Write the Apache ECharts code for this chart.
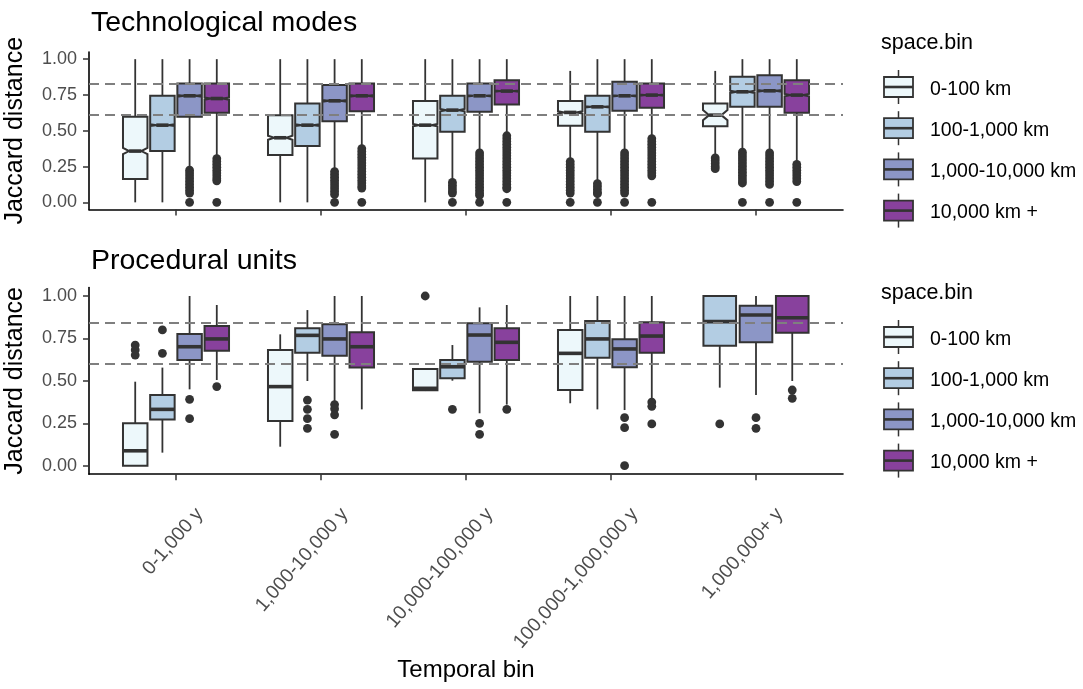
<!DOCTYPE html>
<html>
<head>
<meta charset="utf-8">
<script src="https://cdn.jsdelivr.net/npm/echarts@6/dist/echarts.min.js"></script>
<style>
  html, body { margin: 0; padding: 0; background: #ffffff; }
  #chart { width: 1083px; height: 689px; }
</style>
</head>
<body>
<div id="chart"></div>
<script>
// ---- data -------------------------------------------------------------
const temporalBins = ['0-1,000 y', '1,000-10,000 y', '10,000-100,000 y', '100,000-1,000,000 y', '1,000,000+ y'];
const spaceBins = ['0-100 km', '100-1,000 km', '1,000-10,000 km', '10,000 km +'];
const panelTitles = ['Technological modes', 'Procedural units'];
const legendTitle = 'space.bin';
const yTicks = [0, 0.25, 0.5, 0.75, 1];
const techRefLines = [0.609, 0.831];
const procRefLines = [0.598, 0.841];

// box rows: [temporal bin, lower whisker, Q1, median, Q3, upper whisker, notch half-height]
const techBox0to100 = [
  [0, 0.00, 0.163, 0.358, 0.597, 1.00, 0.022],
  [1, 0.00, 0.330, 0.451, 0.609, 1.00, 0.014],
  [2, 0.00, 0.307, 0.539, 0.707, 1.00, 0.008],
  [3, 0.30, 0.535, 0.628, 0.707, 0.918, 0.008],
  [4, 0.33, 0.532, 0.609, 0.691, 0.918, 0.035]
];
const techBox100to1000 = [
  [0, 0.00, 0.358, 0.539, 0.744, 1.00, 0.006],
  [1, 0.00, 0.393, 0.539, 0.691, 1.00, 0.006],
  [2, 0.15, 0.493, 0.644, 0.744, 1.00, 0.008],
  [3, 0.14, 0.493, 0.667, 0.744, 1.00, 0.005],
  [4, 0.37, 0.667, 0.772, 0.877, 1.00, 0.008]
];
const techBox1000to10000 = [
  [0, 0.24, 0.597, 0.744, 0.830, 1.00, 0.006],
  [1, 0.23, 0.567, 0.709, 0.819, 1.00, 0.006],
  [2, 0.36, 0.632, 0.744, 0.830, 1.00, 0.004],
  [3, 0.36, 0.640, 0.744, 0.842, 1.00, 0.004],
  [4, 0.36, 0.667, 0.779, 0.888, 1.00, 0.006]
];
const techBox10000plus = [
  [0, 0.32, 0.626, 0.725, 0.830, 1.00, 0.008],
  [1, 0.39, 0.637, 0.744, 0.830, 1.00, 0.006],
  [2, 0.48, 0.684, 0.777, 0.853, 1.00, 0.005],
  [3, 0.46, 0.660, 0.749, 0.830, 1.00, 0.005],
  [4, 0.28, 0.626, 0.749, 0.853, 1.00, 0.008]
];

// outlying distances, one list per temporal bin
const techOut0to100 = [
  [], [], [],
  [0.285, 0.265, 0.245, 0.225, 0.205, 0.185, 0.165, 0.145, 0.125, 0.105, 0.085, 0.065, 0],
  [0.31, 0.29, 0.27, 0.25, 0.235]
];
const techOut100to1000 = [
  [], [],
  [0.14, 0.12, 0.10, 0.08, 0.065, 0],
  [0.13, 0.11, 0.09, 0.07, 0.06, 0],
  [0.35, 0.33, 0.31, 0.29, 0.27, 0.25, 0.23, 0.21, 0.19, 0.17, 0.15, 0.135, 0]
];
const techOut1000to10000 = [
  [0.225, 0.205, 0.185, 0.165, 0.145, 0.125, 0.105, 0.085, 0.065, 0],
  [0.215, 0.195, 0.175, 0.155, 0.135, 0.115, 0.095, 0.075, 0.055, 0],
  [0.345, 0.325, 0.305, 0.285, 0.265, 0.245, 0.225, 0.205, 0.185, 0.165, 0.145, 0.125, 0.105, 0.085, 0.065, 0.05, 0],
  [0.345, 0.325, 0.305, 0.285, 0.265, 0.245, 0.225, 0.205, 0.185, 0.165, 0.145, 0.125, 0.105, 0.085, 0.065, 0],
  [0.345, 0.325, 0.305, 0.285, 0.265, 0.245, 0.225, 0.205, 0.185, 0.165, 0.145, 0.125, 0]
];
const techOut10000plus = [
  [0.305, 0.285, 0.265, 0.245, 0.225, 0.205, 0.185, 0.165, 0.15, 0],
  [0.375, 0.355, 0.335, 0.315, 0.295, 0.275, 0.255, 0.235, 0.215, 0.195, 0.175, 0.155, 0.135, 0.115, 0.10, 0],
  [0.465, 0.445, 0.425, 0.405, 0.385, 0.365, 0.345, 0.325, 0.305, 0.285, 0.265, 0.245, 0.225, 0.205, 0.185, 0.165, 0.145, 0.125, 0.105, 0.095, 0],
  [0.445, 0.425, 0.405, 0.385, 0.365, 0.345, 0.325, 0.305, 0.285, 0.265, 0.245, 0.225, 0.205, 0.185, 0],
  [0.265, 0.245, 0.225, 0.205, 0.185, 0.165, 0.145, 0]
];

const procBox0to100 = [
  [0, 0.000, 0.000, 0.088, 0.250, 0.495],
  [1, 0.112, 0.263, 0.466, 0.682, 0.774],
  [2, 0.440, 0.445, 0.456, 0.570, 0.570],
  [3, 0.368, 0.446, 0.662, 0.800, 1.000]
];
const procBox100to1000 = [
  [0, 0.077, 0.273, 0.332, 0.417, 0.578],
  [1, 0.499, 0.666, 0.768, 0.810, 0.917],
  [2, 0.501, 0.515, 0.583, 0.623, 0.711],
  [3, 0.332, 0.636, 0.747, 0.853, 1.000],
  [4, 0.460, 0.707, 0.849, 1.000, 1.000]
];
const procBox1000to10000 = [
  [0, 0.450, 0.623, 0.701, 0.776, 1.000],
  [1, 0.377, 0.648, 0.747, 0.833, 1.000],
  [2, 0.309, 0.613, 0.770, 0.839, 0.933],
  [3, 0.328, 0.580, 0.688, 0.745, 1.000],
  [4, 0.417, 0.727, 0.888, 0.943, 1.000]
];
const procBox10000plus = [
  [0, 0.505, 0.678, 0.747, 0.823, 0.947],
  [1, 0.332, 0.578, 0.701, 0.786, 1.000],
  [2, 0.360, 0.623, 0.727, 0.810, 0.947],
  [3, 0.397, 0.666, 0.764, 0.845, 1.000],
  [4, 0.499, 0.784, 0.872, 1.000, 1.000]
];
const procOut0to100 = [[0.711, 0.682, 0.652], [], [1.0], [], []];
const procOut100to1000 = [[0.80, 0.662], [0.387, 0.332, 0.277, 0.22], [0.332], [], [0.246]];
const procOut1000to10000 = [[0.391, 0.277], [0.36, 0.335, 0.30, 0.185], [0.25, 0.185], [0.283, 0.224, 0], [0.283, 0.22]];
const procOut10000plus = [[0.466], [], [0.332], [0.375, 0.35, 0.246], [0.446, 0.397]];

// ---- styling ----------------------------------------------------------
const binColors = ['#EDF8FB', '#B3CDE3', '#8C96C6', '#88419D'];
const INK = '#333333';
const FONT = "'Liberation Sans', Arial, Helvetica, sans-serif";
const DODGE = 0.75;       // total width shared by the boxes of one temporal bin
const BOX_SHARE = 0.9;    // fraction of a dodge slot taken by the box
const NOTCH_WIDTH = 0.5;  // box width at the median relative to full width

const panels = [
  { boxes: [techBox0to100, techBox100to1000, techBox1000to10000, techBox10000plus],
    outs: [techOut0to100, techOut100to1000, techOut1000to10000, techOut10000plus],
    refs: techRefLines, top: 52, height: 157.5 },
  { boxes: [procBox0to100, procBox100to1000, procBox1000to10000, procBox10000plus],
    outs: [procOut0to100, procOut100to1000, procOut1000to10000, procOut10000plus],
    refs: procRefLines, top: 287.5, height: 186.7 }
];

function membersAt(panel, bin) {
  const out = [];
  panels[panel].boxes.forEach((rows, s) => { if (rows.some(r => r[0] === bin)) out.push(s); });
  return out;
}

function segment(x1, y1, x2, y2, w) {
  return { type: 'line', shape: { x1, y1, x2, y2 }, style: { stroke: INK, lineWidth: w } };
}

function renderBox(params, api, panel, s) {
  const row = panels[panel].boxes[s][params.dataIndex];
  const outs = panels[panel].outs[s][row[0]] || [];
  const bin = row[0];
  const members = membersAt(panel, bin);
  const n = members.length, k = members.indexOf(s);
  const slot = DODGE / n;
  const cx = bin + (k - (n - 1) / 2) * slot;
  const hw = slot * BOX_SHARE / 2;
  const xl = api.coord([cx - hw, 0])[0];
  const xr = api.coord([cx + hw, 0])[0];
  const xc = (xl + xr) / 2;
  const py = v => api.coord([cx, v])[1];
  const lo = row[1], q1 = row[2], med = row[3], q3 = row[4], hi = row[5], notch = row[6] || 0;
  const children = [];
  outs.forEach(v => children.push({ type: 'circle', shape: { cx: xc, cy: py(v), r: 4.4 }, style: { fill: INK } }));
  children.push(segment(xc, py(q3), xc, py(hi), 1.8));
  children.push(segment(xc, py(q1), xc, py(lo), 1.8));
  const ym = py(med);
  let inset = 0, pts;
  if (notch > 0) {
    inset = (xr - xl) * (1 - NOTCH_WIDTH) / 2;
    const nu = py(med + notch), nl = py(med - notch);
    pts = [[xl, py(q3)], [xl, nu], [xl + inset, ym], [xl, nl], [xl, py(q1)],
           [xr, py(q1)], [xr, nl], [xr - inset, ym], [xr, nu], [xr, py(q3)]];
  } else {
    pts = [[xl, py(q3)], [xl, py(q1)], [xr, py(q1)], [xr, py(q3)]];
  }
  children.push({ type: 'polygon', shape: { points: pts },
    style: { fill: binColors[s], stroke: INK, lineWidth: 2, lineJoin: 'miter' } });
  children.push(segment(xl + inset, ym, xr - inset, ym, 3.6));
  return { type: 'group', children };
}

// ---- axes, grids, series ---------------------------------------------
const grids = [], xAxes = [], yAxes = [], series = [], titles = [];
panels.forEach((p, pi) => {
  grids.push({ left: 89, width: 754, top: p.top, height: p.height, outerBoundsMode: 'none', containLabel: false });
  titles.push({ text: panelTitles[pi], left: 86, top: pi === 0 ? 4 : 242,
    textStyle: { fontFamily: FONT, fontSize: 28.5, fontWeight: 'normal', color: '#000' } });
  const isBottom = pi === panels.length - 1;
  xAxes.push({
    type: 'value', gridIndex: pi, min: -0.6, max: 4.6,
    axisLine: { show: true, onZero: false, lineStyle: { color: '#000', width: 1.6 } },
    axisTick: { show: true, length: 6, customValues: [0, 1, 2, 3, 4], lineStyle: { color: INK, width: 1.5 } },
    axisLabel: {
      show: isBottom, customValues: [0, 1, 2, 3, 4], formatter: v => temporalBins[Math.round(v)],
      rotate: 49, align: 'right', verticalAlign: 'top', padding: [24, 3, 0, 0], margin: 12,
      fontFamily: FONT, fontSize: 19.5, color: '#4D4D4D'
    },
    splitLine: { show: false },
    name: isBottom ? 'Temporal bin' : '', nameLocation: 'middle', nameGap: 184,
    nameTextStyle: { fontFamily: FONT, fontSize: 24, color: '#000' }
  });
  yAxes.push({
    type: 'value', gridIndex: pi, min: -0.05, max: 1.05,
    axisLine: { show: true, onZero: false, lineStyle: { color: '#000', width: 1.6 } },
    axisTick: { show: true, length: 6, customValues: yTicks, lineStyle: { color: INK, width: 1.5 } },
    axisLabel: { customValues: yTicks, formatter: v => v.toFixed(2), margin: 12,
      fontFamily: FONT, fontSize: 18, color: '#4D4D4D' },
    splitLine: { show: false },
    name: 'Jaccard distance', nameLocation: 'middle', nameGap: 61,
    nameTextStyle: { fontFamily: FONT, fontSize: 25, color: '#000' }
  });
  p.boxes.forEach((rows, s) => {
    series.push({
      type: 'custom', name: spaceBins[s], xAxisIndex: pi, yAxisIndex: pi,
      data: rows.map(r => r.slice(0, 6)),
      encode: { x: 0, y: [1, 2, 3, 4, 5] },
      clip: false, z: 2,
      renderItem: (params, api) => renderBox(params, api, pi, s)
    });
  });
  // dashed reference levels, drawn over the boxes
  series.push({
    type: 'line', xAxisIndex: pi, yAxisIndex: pi, data: [], z: 5, silent: true,
    markLine: {
      silent: true, symbol: 'none', label: { show: false },
      lineStyle: { type: [10, 6], color: '#7F7F7F', width: 2 },
      data: p.refs.map(v => ({ yAxis: v }))
    }
  });
});

// ---- legend keys (box glyphs) ----------------------------------------
const graphics = [];
[0, 250].forEach(off => {
  graphics.push({ type: 'text', x: 881, y: 43 + off,
    style: { text: legendTitle, fontFamily: FONT, fontSize: 21.5, fill: '#000', align: 'left', verticalAlign: 'middle' } });
  spaceBins.forEach((label, i) => {
    const cy = 87 + off + i * 41.2;
    graphics.push(
      { type: 'line', shape: { x1: 898.5, y1: cy - 17, x2: 898.5, y2: cy + 17 }, style: { stroke: INK, lineWidth: 1.5 } },
      { type: 'rect', shape: { x: 884, y: cy - 10, width: 29, height: 20 }, style: { fill: binColors[i], stroke: INK, lineWidth: 1.8 } },
      { type: 'line', shape: { x1: 884, y1: cy, x2: 913, y2: cy }, style: { stroke: INK, lineWidth: 2.6 } },
      { type: 'text', x: 930, y: cy + 2.5,
        style: { text: label, fontFamily: FONT, fontSize: 19.5, fill: '#000', align: 'left', verticalAlign: 'middle' } }
    );
  });
});

const chart = echarts.init(document.getElementById('chart'), null, { renderer: 'canvas' });
chart.setOption({
  animation: false,
  backgroundColor: '#ffffff',
  textStyle: { fontFamily: FONT },
  title: titles,
  grid: grids,
  xAxis: xAxes,
  yAxis: yAxes,
  series: series,
  graphic: graphics
});
</script>
</body>
</html>
